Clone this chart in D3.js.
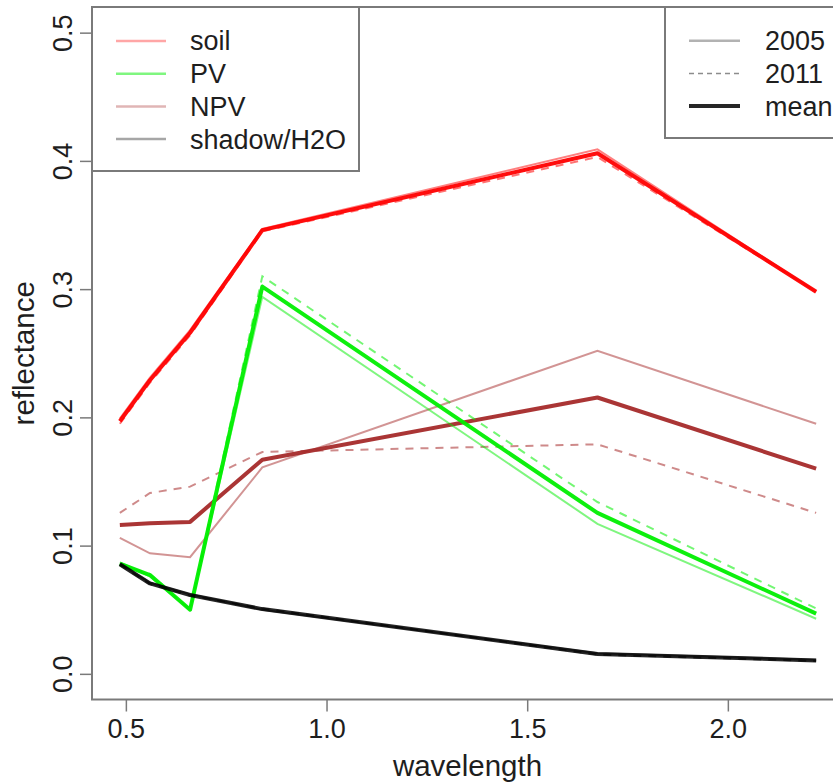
<!DOCTYPE html>
<html>
<head>
<meta charset="utf-8">
<script src="https://cdn.jsdelivr.net/npm/d3@7"></script>
<style>
  html, body { margin: 0; padding: 0; background: #fff; }
  svg { display: block; font-family: "Liberation Sans", Arial, Helvetica, sans-serif; }
</style>
</head>
<body>
<svg id="chart" width="833" height="783"></svg>
<script>
// ---------------- data ----------------
const wavelength = [0.485, 0.56, 0.66, 0.84, 1.675, 2.22];

const soil2005 = [0.199, 0.231, 0.268, 0.347, 0.409, 0.298];
const soil2011 = [0.195, 0.227, 0.264, 0.345, 0.403, 0.298];
const soilMean = [0.197, 0.229, 0.266, 0.346, 0.406, 0.298];

const pv2005 = [0.087, 0.076, 0.050, 0.294, 0.117, 0.043];
const pv2011 = [0.085, 0.078, 0.050, 0.310, 0.134, 0.051];
const pvMean = [0.086, 0.077, 0.050, 0.302, 0.1255, 0.047];

const npv2005 = [0.106, 0.094, 0.091, 0.161, 0.252, 0.195];
const npv2011 = [0.1255, 0.141, 0.146, 0.173, 0.179, 0.1255];
const npvMean = [0.116, 0.1175, 0.1185, 0.167, 0.2155, 0.160];

const shadow2005 = [0.086, 0.071, 0.062, 0.050, 0.016, 0.011];
const shadow2011 = [0.085, 0.070, 0.061, 0.051, 0.015, 0.010];
const shadowMean = [0.0855, 0.0705, 0.0615, 0.0505, 0.0155, 0.0105];

const classNames = ["soil", "PV", "NPV", "shadow/H2O"];
const classColors = ["#ff0000", "#00ee00", "#a52a2a", "#000000"];
const yearNames = ["2005", "2011", "mean"];

const xTicks = [0.5, 1.0, 1.5, 2.0];
const yTicks = [0.0, 0.1, 0.2, 0.3, 0.4, 0.5];
const yLimits = [0, 0.5];

// --------------- layout ---------------
const svg = d3.select("#chart");
const pLeft = 92, pRight = 844, pTop = 7, pBottom = 699.5;
const FONT = 27;
const LABFONT = 29.5;
const TEXT = "#1e1e1e";
const FRAME = "#7a7a7a";

const xr = d3.extent(wavelength);
const xPad = (xr[1] - xr[0]) * 0.04;
const x = d3.scaleLinear().domain([xr[0] - xPad, xr[1] + xPad]).range([pLeft, pRight]);
const yPad = (yLimits[1] - yLimits[0]) * 0.04;
const y = d3.scaleLinear().domain([yLimits[0] - yPad, yLimits[1] + yPad]).range([pBottom, pTop]);

const line = d3.line().x((d, i) => x(wavelength[i])).y(d => y(d));

// series drawing
const seriesSets = [
  { color: classColors[0], s2005: soil2005, s2011: soil2011, mean: soilMean },
  { color: classColors[2], s2005: npv2005, s2011: npv2011, mean: npvMean },
  { color: classColors[1], s2005: pv2005, s2011: pv2011, mean: pvMean },
  { color: classColors[3], s2005: shadow2005, s2011: shadow2011, mean: shadowMean }
];

const gLines = svg.append("g");
seriesSets.forEach(s => {
  gLines.append("path").attr("d", line(s.s2005)).attr("fill", "none")
    .attr("stroke", s.color).attr("stroke-opacity", 0.5).attr("stroke-width", 2);
  gLines.append("path").attr("d", line(s.s2011)).attr("fill", "none")
    .attr("stroke", s.color).attr("stroke-opacity", 0.55).attr("stroke-width", 2)
    .attr("stroke-dasharray", "8,7");
  gLines.append("path").attr("d", line(s.mean)).attr("fill", "none")
    .attr("stroke", s.color).attr("stroke-opacity", s.color === "#000000" ? 0.85 : 0.95)
    .attr("stroke-width", 4).attr("stroke-linejoin", "round");
});

// frame box
svg.append("rect").attr("x", pLeft).attr("y", pTop)
  .attr("width", pRight - pLeft).attr("height", pBottom - pTop)
  .attr("fill", "none").attr("stroke", FRAME).attr("stroke-width", 2);

// x axis
const gx = svg.append("g").attr("transform", `translate(0,${pBottom})`)
  .call(d3.axisBottom(x).tickValues(xTicks).tickSize(12).tickPadding(7)
    .tickFormat(d3.format(".1f")));
gx.select(".domain").remove();
gx.selectAll(".tick line").attr("stroke", FRAME).attr("stroke-width", 1.5);
gx.selectAll(".tick text").attr("font-size", FONT).attr("fill", TEXT)
  .attr("font-family", "Liberation Sans, Arial, sans-serif");

// y axis
const gy = svg.append("g").attr("transform", `translate(${pLeft},0)`)
  .call(d3.axisLeft(y).tickValues(yTicks).tickSize(12).tickFormat(d3.format(".1f")));
gy.select(".domain").remove();
gy.selectAll(".tick line").attr("stroke", FRAME).attr("stroke-width", 1.5);
gy.selectAll(".tick text")
  .attr("x", null).attr("dy", null).attr("y", 0)
  .attr("text-anchor", "middle")
  .attr("transform", "translate(-20,0) rotate(-90)")
  .attr("font-size", FONT).attr("fill", TEXT)
  .attr("font-family", "Liberation Sans, Arial, sans-serif");

// axis titles
svg.append("text").attr("x", (pLeft + pRight) / 2 - 0.5).attr("y", 776)
  .attr("text-anchor", "middle").attr("font-size", LABFONT).attr("fill", TEXT)
  .text("wavelength");
svg.append("text")
  .attr("transform", `translate(34,${(pTop + pBottom) / 2}) rotate(-90)`)
  .attr("text-anchor", "middle").attr("font-size", LABFONT).attr("fill", TEXT)
  .text("reflectance");

// legend 1 (classes)
const leg1 = svg.append("g");
leg1.append("rect").attr("x", pLeft).attr("y", pTop).attr("width", 267).attr("height", 164)
  .attr("fill", "#fff").attr("stroke", FRAME).attr("stroke-width", 2);
classNames.forEach((name, i) => {
  const yy = 41 + i * 32.7;
  leg1.append("line").attr("x1", 116).attr("x2", 166).attr("y1", yy).attr("y2", yy)
    .attr("stroke", classColors[i]).attr("stroke-opacity", i === 1 ? 0.5 : 0.35)
    .attr("stroke-width", 2.5);
  leg1.append("text").attr("x", 190).attr("y", yy).attr("dy", "0.35em")
    .attr("font-size", FONT).attr("fill", TEXT).text(name);
});

// legend 2 (years)
const leg2 = svg.append("g");
leg2.append("rect").attr("x", 665).attr("y", pTop).attr("width", 220).attr("height", 131)
  .attr("fill", "#fff").attr("stroke", FRAME).attr("stroke-width", 2);
const yearStyles = [
  { op: 0.3, w: 2.5, dash: null },
  { op: 0.45, w: 1.5, dash: "5,4" },
  { op: 0.85, w: 4, dash: null }
];
yearNames.forEach((name, i) => {
  const yy = 40.7 + i * 32.7;
  const l = leg2.append("line").attr("x1", 689).attr("x2", 740).attr("y1", yy).attr("y2", yy)
    .attr("stroke", "#000").attr("stroke-opacity", yearStyles[i].op)
    .attr("stroke-width", yearStyles[i].w);
  if (yearStyles[i].dash) l.attr("stroke-dasharray", yearStyles[i].dash);
  leg2.append("text").attr("x", 765).attr("y", yy).attr("dy", "0.35em")
    .attr("font-size", FONT).attr("fill", TEXT).text(name);
});
</script>
</body>
</html>
